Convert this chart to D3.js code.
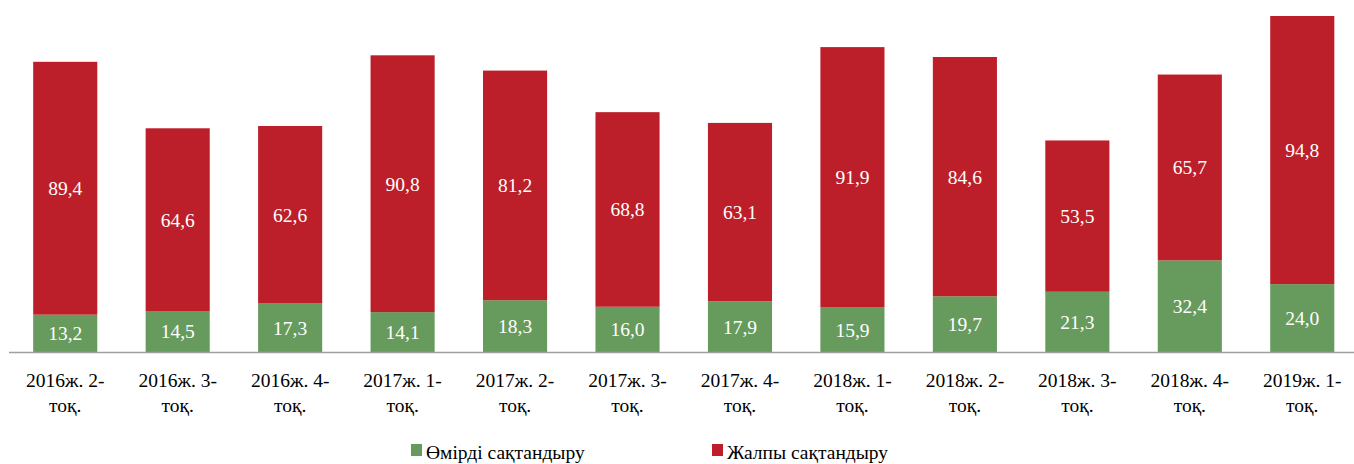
<!DOCTYPE html>
<html>
<head>
<meta charset="utf-8">
<script src="https://cdn.jsdelivr.net/npm/d3@7"></script>
</head>
<body style="margin:0">
<script>
const categories = [
  ["2016ж. 2-", "тоқ."], ["2016ж. 3-", "тоқ."], ["2016ж. 4-", "тоқ."],
  ["2017ж. 1-", "тоқ."], ["2017ж. 2-", "тоқ."], ["2017ж. 3-", "тоқ."],
  ["2017ж. 4-", "тоқ."], ["2018ж. 1-", "тоқ."], ["2018ж. 2-", "тоқ."],
  ["2018ж. 3-", "тоқ."], ["2018ж. 4-", "тоқ."], ["2019ж. 1-", "тоқ."]
];
const lifeValues = [13.2, 14.5, 17.3, 14.1, 18.3, 16.0, 17.9, 15.9, 19.7, 21.3, 32.4, 24.0];
const generalValues = [89.4, 64.6, 62.6, 90.8, 81.2, 68.8, 63.1, 91.9, 84.6, 53.5, 65.7, 94.8];
const seriesNames = ["Өмірді сақтандыру", "Жалпы сақтандыру"];

const colors = { life: "#679b5d", general: "#bc1f29" };
const width = 1354, height = 464;
const baseY = 352, topY = 16;
// text is drawn at 30px and scaled down to ~19.5px
const textScale = 0.65;

const data = categories.map((c, i) => ({
  key: c.join(" "), lines: c, life: lifeValues[i], general: generalValues[i]
}));

const svg = d3.select("body").append("svg")
  .attr("width", width).attr("height", height);

const x = d3.scaleBand()
  .domain(data.map(d => d.key))
  .range([9, 1358.5])
  .paddingInner(0.43)
  .paddingOuter(0.215);

const maxTotal = d3.max(data, d => d.life + d.general);
const y = d3.scaleLinear().domain([0, maxTotal]).range([baseY, topY]);

const layers = d3.stack().keys(["life", "general"])(data);
const fmt = v => v.toFixed(1).replace(".", ",");

function addText(parent, tx, ty, str, fill, anchor) {
  parent.append("g")
    .attr("transform", `translate(${tx},${ty}) scale(${textScale})`)
    .append("text")
    .attr("text-anchor", anchor)
    .attr("fill", fill)
    .style("font-family", '"Liberation Serif"')
    .style("font-size", "30px")
    .text(str);
}

// stacked bars
layers.forEach(layer => {
  svg.append("g").attr("fill", colors[layer.key])
    .selectAll("rect")
    .data(layer)
    .join("rect")
    .attr("x", d => x(d.data.key))
    .attr("width", x.bandwidth())
    .attr("y", d => y(d[1]))
    .attr("height", d => y(d[0]) - y(d[1]));
});

// value labels
const valueLabels = svg.append("g");
layers.forEach(layer => {
  layer.forEach(d => {
    addText(valueLabels,
      x(d.data.key) + x.bandwidth() / 2,
      (y(d[0]) + y(d[1])) / 2 + 7,
      fmt(d.data[layer.key]), "#fff", "middle");
  });
});

// x axis baseline
svg.append("line")
  .attr("x1", 9).attr("x2", width)
  .attr("y1", baseY + 0.5).attr("y2", baseY + 0.5)
  .attr("stroke", "#a0a0a0")
  .attr("stroke-width", 1.5);

// category labels, two lines each
const catLabels = svg.append("g");
data.forEach(d => {
  d.lines.forEach((t, i) => {
    addText(catLabels, x(d.key) + x.bandwidth() / 2, 387 + i * 25, t, "#000", "middle");
  });
});

// legend
const legendItems = [
  { label: seriesNames[0], color: colors.life, x: 411 },
  { label: seriesNames[1], color: colors.general, x: 712 }
];
legendItems.forEach(item => {
  const g = svg.append("g").attr("transform", `translate(${item.x}, 444)`);
  g.append("rect").attr("width", 11).attr("height", 12).attr("fill", item.color);
  addText(g, 15, 14.5, item.label, "#000", "start");
});
</script>
</body>
</html>
